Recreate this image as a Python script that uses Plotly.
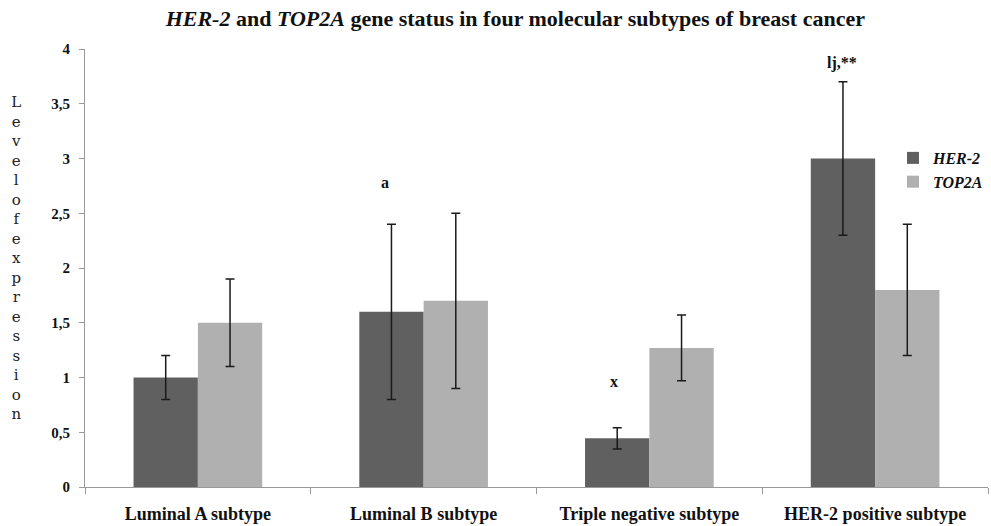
import plotly.graph_objects as go

categories = ["Luminal A subtype", "Luminal B subtype", "Triple negative subtype", "HER-2 positive subtype"]
her2_values = [1.0, 1.6, 0.445, 3.0]
her2_err = [0.2, 0.8, 0.097, 0.7]
top2a_values = [1.5, 1.7, 1.27, 1.8]
top2a_err = [0.4, 0.8, 0.3, 0.6]
tick_vals = [0, 0.5, 1, 1.5, 2, 2.5, 3, 3.5, 4]
tick_text = ["0", "0,5", "1", "1,5", "2", "2,5", "3", "3,5", "4"]
marks = [("a", 1, 2.78, -39), ("x", 2, 0.96, -35), ("lj,**", 3, 3.87, -33)]
ylabel = "Levelofexpression"

serif = "Liberation Serif"

fig = go.Figure()
fig.add_trace(go.Bar(
    x=categories, y=her2_values, name="<b><i>HER-2</i></b>",
    marker=dict(color="#606060", line=dict(width=0)),
    error_y=dict(type="data", array=her2_err, visible=True, color="#1a1a1a", thickness=1.5, width=4.5),
))
fig.add_trace(go.Bar(
    x=categories, y=top2a_values, name="<b><i>TOP2A</i></b>",
    marker=dict(color="#b0b0b0", line=dict(width=0)),
    error_y=dict(type="data", array=top2a_err, visible=True, color="#1a1a1a", thickness=1.5, width=4.5),
))

for txt, idx, yv, dx in marks:
    fig.add_annotation(x=categories[idx], y=yv, text="<b>" + txt + "</b>", showarrow=False,
                       xshift=dx, font=dict(family=serif, size=16, color="#111"))

fig.add_annotation(xref="paper", yref="paper", x=-0.076, y=0.523, xanchor="center", yanchor="middle",
                   text="<br>".join(list(ylabel)), showarrow=False,
                   font=dict(family="DejaVu Serif", size=15, color="#222"))

fig.update_layout(
    width=991, height=526,
    margin=dict(l=85, r=3, t=49, b=39),
    paper_bgcolor="white", plot_bgcolor="white",
    barmode="group", bargap=0.43, bargroupgap=0,
    title=dict(text="<b><i>HER-2</i> and <i>TOP2A</i> gene status in four molecular subtypes of breast cancer</b>",
               x=0.52, xanchor="center", y=0.966, yanchor="middle",
               font=dict(family=serif, size=22, color="#111")),
    legend=dict(x=1.0, y=0.79, xanchor="right", yanchor="top", bgcolor="rgba(0,0,0,0)",
                font=dict(family=serif, size=16, color="#111"), itemwidth=30),
    showlegend=True,
    xaxis=dict(showline=True, linecolor="#999", linewidth=1.2, ticks="outside", tickson="boundaries",
               ticklen=6, tickcolor="#999", showgrid=False, ticklabelstandoff=10,
               tickfont=dict(family=serif, size=18, color="#111"),
               tickprefix="<b>", ticksuffix="</b>"),
    yaxis=dict(range=[0, 4], tickvals=tick_vals, ticktext=["<b>" + t + "</b>" for t in tick_text],
               showline=True, linecolor="#999", linewidth=1.2, ticks="outside", ticklen=5,
               tickcolor="#999", showgrid=False, zeroline=False, ticklabelstandoff=6,
               tickfont=dict(family=serif, size=15, color="#111")),
)

fig.write_html("out.html", config={"displayModeBar": False},
               post_script="document.body.style.margin='0';")
